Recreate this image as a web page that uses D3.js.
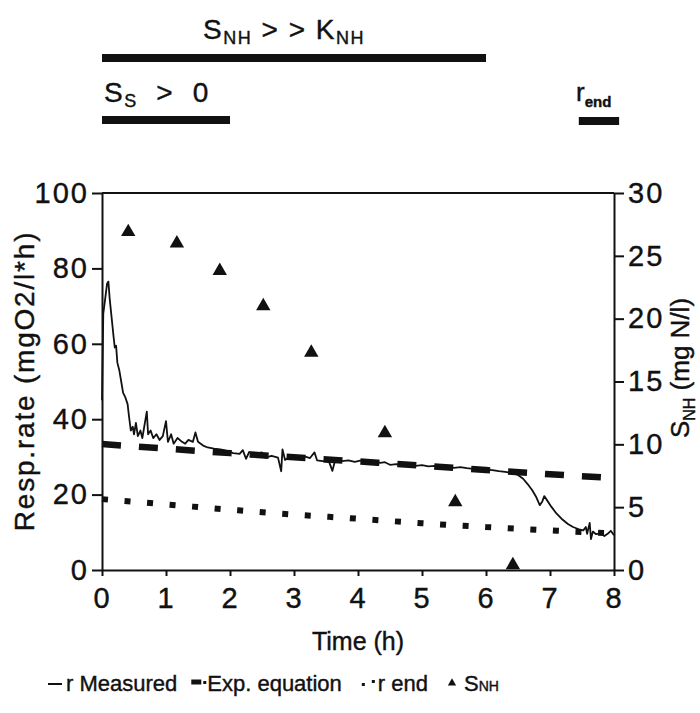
<!DOCTYPE html>
<html>
<head>
<meta charset="utf-8">
<script src="https://cdn.jsdelivr.net/npm/d3@7"></script>
<style>
  body { margin: 0; background: #fff; }
  text { font-family: "Liberation Sans", Arial, sans-serif; fill: #111; stroke: #111; stroke-width: 0.4px; white-space: pre; }
</style>
</head>
<body>
<svg id="chart"></svg>
<script>
// hours for the two model curves
var modelTime = [0, 1, 2, 3, 4, 5, 6, 7, 8];
var expValues = [33.4, 32.2, 31.0, 29.9, 28.8, 27.7, 26.5, 25.4, 24.4];
var rEndValues = [18.8, 17.4, 16.0, 14.7, 13.6, 12.4, 11.4, 10.5, 9.7];

// measured respiration rate
var measuredTime = [0, 0.02, 0.05, 0.08, 0.1, 0.12, 0.15, 0.18, 0.2, 0.22, 0.24, 0.27, 0.3, 0.33, 0.36, 0.4,
  0.42, 0.45, 0.48, 0.5, 0.53, 0.56, 0.6, 0.63, 0.66, 0.7, 0.72, 0.76, 0.8, 0.85, 0.9, 0.95, 1.0, 1.03,
  1.08, 1.12, 1.18, 1.25, 1.3, 1.35, 1.42, 1.46, 1.5, 1.58, 1.65, 1.75, 1.85, 1.95, 2.05, 2.15, 2.2, 2.25,
  2.3, 2.4, 2.5, 2.55, 2.65, 2.75, 2.8, 2.82, 2.86, 2.95, 3.05, 3.15, 3.25, 3.32, 3.36, 3.45, 3.55, 3.6,
  3.64, 3.75, 3.85, 3.95, 4.05, 4.15, 4.25, 4.35, 4.42, 4.5, 4.6, 4.7, 4.8, 4.9, 5.0, 5.1, 5.2, 5.3, 5.4,
  5.5, 5.6, 5.7, 5.8, 5.9, 6.0, 6.1, 6.2, 6.3, 6.4, 6.5, 6.58, 6.65, 6.72, 6.78, 6.84, 6.88, 6.91, 6.95,
  7.02, 7.1, 7.18, 7.28, 7.36, 7.45, 7.52, 7.56, 7.58, 7.62, 7.64, 7.67, 7.72, 7.8, 7.85, 7.9, 7.95, 8.0];
var measuredRate = [45, 68, 72, 76, 76.5, 72, 67, 62, 59, 59.5, 55, 53, 50, 47, 46, 44,
  41, 37, 38, 36, 39, 35.5, 37, 35, 38, 42, 36, 37, 35, 36, 34.5, 35.5, 39.5, 34,
  36, 33.5, 35, 34, 33.5, 34.5, 34, 36.5, 34, 33, 32.5, 32.2, 32, 31.6, 31, 30.8, 31.8, 29.5,
  31.3, 30.8, 31.2, 29.8, 30.3, 29.8, 26.2, 32, 29.2, 30.2, 29.9, 30.2, 29.7, 31.2, 29.1, 28.9, 28.6, 26.3,
  28.9, 28.9, 29.1, 28.7, 29.1, 28.6, 28.9, 28.4, 28.6, 27.9, 28.1, 27.8, 27.9, 27.6, 27.8, 27.5, 27.6, 27.2, 27.4,
  27.1, 27.3, 27.0, 26.8, 26.9, 26.6, 26.5, 26.2, 26.0, 25.8, 25.2, 24.2, 22.8, 21.2, 19.5, 17.2, 18.2, 19.6, 18.6,
  16.8, 15.0, 13.6, 12.2, 11.4, 10.8, 10.5, 11.4, 9.6, 12.5, 8.2, 10.2, 9.5, 9.8, 9.0, 9.6, 10.4, 9.2];

// ammonium concentration (right axis)
var snhTime = [0.41, 1.17, 1.84, 2.52, 3.27, 4.42, 5.52, 6.42];
var snhValues = [26.9, 26.0, 23.8, 21.0, 17.3, 10.9, 5.4, 0.4];

// phase bars above the chart, in hours
var phaseSnh = [0, 6];
var phaseSs = [0, 2];
var phaseEnd = [7.45, 8.08];

var xTicks = [0, 1, 2, 3, 4, 5, 6, 7, 8];
var yTicks = [0, 20, 40, 60, 80, 100];
var y2Ticks = [0, 5, 10, 15, 20, 25, 30];

var screen = {width: 700, height: 713};
var plot = {left: 102, right: 614, top: 193, bottom: 570};

var svg = d3.select("#chart")
  .attr("width", screen.width)
  .attr("height", screen.height);

var x = d3.scaleLinear().domain([0, 8]).range([plot.left, plot.right]);
var y = d3.scaleLinear().domain([0, 100]).range([plot.bottom, plot.top]);
var y2 = d3.scaleLinear().domain([0, 30]).range([plot.bottom, plot.top]);

// axes
var xAxis = svg.append("g")
  .attr("transform", "translate(0," + plot.bottom + ")")
  .call(d3.axisBottom(x).tickValues(xTicks).tickSize(6).tickSizeOuter(0).tickPadding(11));
var yAxis = svg.append("g")
  .attr("transform", "translate(" + plot.left + ",0)")
  .call(d3.axisLeft(y).tickValues(yTicks).tickSize(10).tickSizeOuter(0).tickPadding(3));
var y2Axis = svg.append("g")
  .attr("transform", "translate(" + plot.right + ",0)")
  .call(d3.axisRight(y2).tickValues(y2Ticks).tickSize(10).tickSizeOuter(0).tickPadding(4));

[xAxis, yAxis, y2Axis].forEach(function(a) {
  a.selectAll("path, line").attr("stroke", "#111").attr("stroke-width", 2);
  a.selectAll("text").style("font-size", "29px").style("letter-spacing", "2px").attr("fill", "#111");
});

// frame top
svg.append("line")
  .attr("x1", x(0)).attr("x2", x(8))
  .attr("y1", y(100)).attr("y2", y(100))
  .attr("stroke", "#111").attr("stroke-width", 2);

// axis titles
svg.append("text")
  .attr("transform", "rotate(-90)")
  .attr("x", -381)
  .attr("y", 34)
  .attr("text-anchor", "middle")
  .style("font-size", "28px")
  .style("letter-spacing", "1.8px")
  .text("Resp.rate (mgO2/l*h)");

var rt = svg.append("text")
  .attr("transform", "rotate(-90)")
  .attr("x", -368)
  .attr("y", 689)
  .attr("text-anchor", "middle")
  .style("font-size", "26px");
rt.append("tspan").text("S");
rt.append("tspan").attr("dy", 6).style("font-size", "16px").text("NH");
rt.append("tspan").attr("dy", -6).text(" (mg N/l)");

svg.append("text")
  .attr("x", (plot.left + plot.right) / 2)
  .attr("y", 650)
  .attr("text-anchor", "middle")
  .style("font-size", "25px")
  .text("Time (h)");

// model curves
var expLine = d3.line()
  .x(function(d, i) { return x(modelTime[i]); })
  .y(function(d) { return y(d); })
  .curve(d3.curveMonotoneX);

svg.append("path")
  .datum(expValues)
  .attr("d", expLine)
  .attr("fill", "none")
  .attr("stroke", "#111")
  .attr("stroke-width", 6.5)
  .attr("stroke-dasharray", "19,18");

svg.append("path")
  .datum(rEndValues)
  .attr("d", expLine)
  .attr("fill", "none")
  .attr("stroke", "#111")
  .attr("stroke-width", 6)
  .attr("stroke-dasharray", "6,16.6");

// measured trace
var measLine = d3.line()
  .x(function(d, i) { return x(measuredTime[i]); })
  .y(function(d) { return y(d); });

svg.append("path")
  .datum(measuredRate)
  .attr("d", measLine)
  .attr("fill", "none")
  .attr("stroke", "#111")
  .attr("stroke-width", 1.8)
  .attr("stroke-linejoin", "round");

// ammonium triangles
svg.selectAll(".snh")
  .data(snhValues)
  .enter()
  .append("path")
  .attr("class", "snh")
  .attr("d", d3.symbol().type(d3.symbolTriangle).size(90))
  .attr("transform", function(d, i) {
    return "translate(" + x(snhTime[i]) + "," + y2(d) + ")";
  })
  .attr("fill", "#111");

// phase annotations on top
var phases = [
  {range: phaseSnh, y: 58},
  {range: phaseSs, y: 120},
  {range: phaseEnd, y: 121}
];
svg.selectAll(".phase")
  .data(phases)
  .enter()
  .append("line")
  .attr("class", "phase")
  .attr("x1", function(d) { return x(d.range[0]); })
  .attr("x2", function(d) { return x(d.range[1]); })
  .attr("y1", function(d) { return d.y; })
  .attr("y2", function(d) { return d.y; })
  .attr("stroke", "#111")
  .attr("stroke-width", 8);

var t1 = svg.append("text")
  .attr("x", 284).attr("y", 39)
  .attr("text-anchor", "middle")
  .style("font-size", "28px")
  .style("letter-spacing", "1.5px");
t1.append("tspan").text("S");
t1.append("tspan").attr("dy", 5).style("font-size", "18px").text("NH");
t1.append("tspan").attr("dy", -5).text(" > > K");
t1.append("tspan").attr("dy", 5).style("font-size", "18px").text("NH");

var t2 = svg.append("text")
  .attr("x", 104).attr("y", 102)
  .style("font-size", "28px")
  .style("letter-spacing", "1.5px");
t2.append("tspan").text("S");
t2.append("tspan").attr("dy", 5).style("font-size", "18px").text("S");
t2.append("tspan").attr("dy", -5).text("  >  0");

var t3 = svg.append("text")
  .attr("x", 576).attr("y", 101)
  .style("font-size", "26px");
t3.append("tspan").text("r");
t3.append("tspan").attr("dy", 6).style("font-size", "15px").style("font-weight", "bold").text("end");

// legend
var lg = svg.append("g").attr("transform", "translate(0,691)");
var lx = 48;
lg.append("line").attr("x1", lx).attr("x2", lx + 14).attr("y1", -7).attr("y2", -7)
  .attr("stroke", "#111").attr("stroke-width", 2);
var l1 = lg.append("text").attr("x", lx + 18).attr("y", 0).style("font-size", "22px").text("r Measured");
lx = lx + 18 + l1.node().getComputedTextLength() + 14;
lg.append("line").attr("x1", lx).attr("x2", lx + 10).attr("y1", -9).attr("y2", -9)
  .attr("stroke", "#111").attr("stroke-width", 5);
lg.append("rect").attr("x", lx + 12).attr("y", -10).attr("width", 3).attr("height", 3).attr("fill", "#111");
var l2 = lg.append("text").attr("x", lx + 16).attr("y", 0).style("font-size", "22px").text("Exp. equation");
lx = lx + 16 + l2.node().getComputedTextLength() + 20;
lg.append("rect").attr("x", lx).attr("y", -8).attr("width", 3).attr("height", 3).attr("fill", "#111");
lg.append("rect").attr("x", lx + 10).attr("y", -11).attr("width", 3).attr("height", 3).attr("fill", "#111");
var l3 = lg.append("text").attr("x", lx + 16).attr("y", 0).style("font-size", "22px").text("r end");
lx = lx + 16 + l3.node().getComputedTextLength() + 20;
lg.append("path")
  .attr("d", d3.symbol().type(d3.symbolTriangle).size(30))
  .attr("transform", "translate(" + (lx + 4) + ",-8)")
  .attr("fill", "#111");
var l4 = lg.append("text").attr("x", lx + 16).attr("y", 0).style("font-size", "22px");
l4.append("tspan").text("S");
l4.append("tspan").style("font-size", "14px").text("NH");
</script>
</body>
</html>
